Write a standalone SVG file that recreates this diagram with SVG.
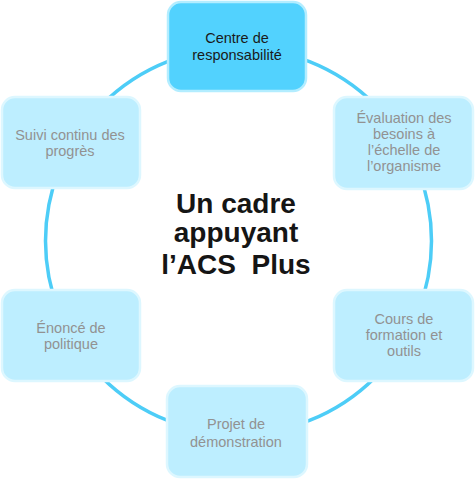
<svg xmlns="http://www.w3.org/2000/svg" width="475" height="482" viewBox="0 0 475 482">
<style>
.box{fill:#BDEEFF;stroke:#DDF7FF;stroke-width:2.5}
.main{fill:#52D2FE;stroke:#B3EDFF;stroke-width:2.5}
.lbl{font-family:"Liberation Sans",Arial,sans-serif;font-size:14.5px;fill:#929292;text-anchor:middle}
.lblm{font-family:"Liberation Sans",Arial,sans-serif;font-size:14.5px;fill:#1A1A1A;text-anchor:middle}
.title{font-family:"Liberation Sans",Arial,sans-serif;font-size:28px;font-weight:bold;fill:#151515;text-anchor:middle;white-space:pre}
.ring{fill:none;stroke:#4DCDF7;stroke-width:3.5}
</style>
<rect width="475" height="482" fill="#FFFFFF"/>
<g id="connectors">
<circle class="ring" cx="238.5" cy="241" r="193"/>
</g>
<g id="n-centre">
<rect class="main" x="168" y="2" width="138" height="89" rx="13"/>
<text class="lblm" x="237" y="43">Centre de</text>
<text class="lblm" x="237" y="60">responsabilité</text>
</g>
<g id="n-evaluation">
<rect class="box" x="334" y="97" width="139" height="92" rx="13"/>
<text class="lbl" x="404" y="123">Évaluation des</text>
<text class="lbl" x="404" y="139">besoins à</text>
<text class="lbl" x="404" y="155">l’échelle de</text>
<text class="lbl" x="404" y="171">l’organisme</text>
</g>
<g id="n-cours">
<rect class="box" x="334" y="290" width="139" height="91" rx="13"/>
<text class="lbl" x="404" y="324">Cours de</text>
<text class="lbl" x="404" y="340">formation et</text>
<text class="lbl" x="404" y="356">outils</text>
</g>
<g id="n-projet">
<rect class="box" x="167" y="386" width="140" height="91" rx="13"/>
<text class="lbl" x="236" y="429">Projet de</text>
<text class="lbl" x="236" y="447">démonstration</text>
</g>
<g id="n-enonce">
<rect class="box" x="2" y="290" width="138" height="91" rx="13"/>
<text class="lbl" x="71" y="333">Énoncé de</text>
<text class="lbl" x="71" y="349">politique</text>
</g>
<g id="n-suivi">
<rect class="box" x="2" y="97" width="138" height="91" rx="13"/>
<text class="lbl" x="70" y="140">Suivi continu des</text>
<text class="lbl" x="70" y="156">progrès</text>
</g>
<g id="n-title">
<text class="title" x="236" y="213">Un cadre</text>
<text class="title" x="236" y="242">appuyant</text>
<text class="title" x="236" y="274">l’ACS  Plus</text>
</g>
</svg>
